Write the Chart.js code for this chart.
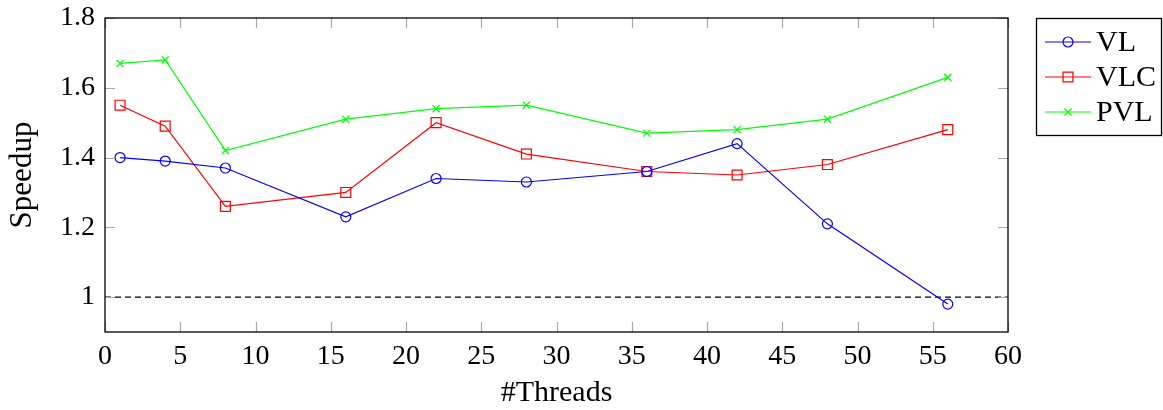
<!DOCTYPE html>
<html>
<head>
<meta charset="utf-8">
<script src="https://cdn.jsdelivr.net/npm/chart.js@4/dist/chart.umd.min.js"></script>
<style>
  html, body { margin: 0; padding: 0; background: #fff; }
  #wrap { width: 1163px; height: 410px; }
</style>
</head>
<body>
<div id="wrap"><canvas id="speedupChart" width="1163" height="410"></canvas></div>
<script>
// Thread counts and measured speedups
const threads = [1, 4, 8, 16, 22, 28, 36, 42, 48, 56];
const vlSpeedup  = [1.40, 1.39, 1.37, 1.23, 1.34, 1.33, 1.36, 1.44, 1.21, 0.98];
const vlcSpeedup = [1.55, 1.49, 1.26, 1.30, 1.50, 1.41, 1.36, 1.35, 1.38, 1.48];
const pvlSpeedup = [1.67, 1.68, 1.42, 1.51, 1.54, 1.55, 1.47, 1.48, 1.51, 1.63];

// Baseline (speedup = 1) across the whole x range
const baselineX = [0, 60];
const baselineY = [1, 1];

const yTicks = [1, 1.2, 1.4, 1.6, 1.8];
const xTicks = [0, 5, 10, 15, 20, 25, 30, 35, 40, 45, 50, 55, 60];

const FONT = "'Liberation Serif', 'Times New Roman', serif";

function toPoints(xs, ys) {
    return xs.map((x, i) => ({ x: x, y: ys[i] }));
}

// pgfplots-like frame with small gray ticks pointing inward
const framePlugin = {
    id: 'frame',
    afterDatasetsDraw(chart) {
        const { ctx, chartArea: a, scales } = chart;
        const len = 10;
        ctx.save();
        ctx.strokeStyle = '#a8a8a8';
        ctx.lineWidth = 1.2;
        ctx.beginPath();
        xTicks.forEach(v => {
            const px = Math.round(scales.x.getPixelForValue(v)) + 0.5;
            ctx.moveTo(px, a.bottom); ctx.lineTo(px, a.bottom - len);
            ctx.moveTo(px, a.top); ctx.lineTo(px, a.top + len);
        });
        yTicks.forEach(v => {
            const py = Math.round(scales.y.getPixelForValue(v)) + 0.5;
            ctx.moveTo(a.left, py); ctx.lineTo(a.left + len, py);
            ctx.moveTo(a.right, py); ctx.lineTo(a.right - len, py);
        });
        ctx.stroke();
        ctx.strokeStyle = '#000';
        ctx.lineWidth = 1.3;
        ctx.strokeRect(a.left, a.top, a.right - a.left, a.bottom - a.top);
        ctx.restore();
    }
};

// Boxed legend outside the plot, each entry showing line + marker
const boxLegendPlugin = {
    id: 'boxLegend',
    afterDraw(chart) {
        const { ctx } = chart;
        const sets = chart.data.datasets.filter(d => d.label);
        const box = { x: 1036.5, y: 18.5, w: 125, h: 117 };
        ctx.save();
        ctx.fillStyle = '#fff';
        ctx.fillRect(box.x, box.y, box.w, box.h);
        ctx.strokeStyle = '#000';
        ctx.lineWidth = 1.3;
        ctx.strokeRect(box.x, box.y, box.w, box.h);
        sets.forEach((d, i) => {
            const cy = 42 + i * 35;
            ctx.strokeStyle = d.borderColor;
            ctx.lineWidth = 1.2;
            ctx.beginPath();
            ctx.moveTo(1045, cy); ctx.lineTo(1091, cy);
            ctx.stroke();
            ctx.fillStyle = 'rgba(0,0,0,0)';
            Chart.helpers.drawPoint(ctx, {
                pointStyle: d.pointStyle,
                radius: d.pointRadius,
                borderWidth: d.pointBorderWidth,
                rotation: 0
            }, 1068, cy);
            ctx.fillStyle = '#000';
            ctx.font = '30px ' + FONT;
            ctx.textBaseline = 'middle';
            ctx.textAlign = 'left';
            ctx.fillText(d.label, 1096, cy + 1);
        });
        ctx.restore();
    }
};

function series(label, ys, color, style, radius) {
    return {
        label: label,
        data: toPoints(threads, ys),
        borderColor: color,
        backgroundColor: 'rgba(0,0,0,0)',
        borderWidth: 1.2,
        pointStyle: style,
        pointRadius: radius,
        pointHoverRadius: radius,
        pointBorderColor: color,
        pointBackgroundColor: 'rgba(0,0,0,0)',
        pointBorderWidth: 1.2,
        tension: 0,
        fill: false
    };
}

new Chart(document.getElementById('speedupChart'), {
    type: 'line',
    data: {
        datasets: [
            series('VL', vlSpeedup, '#0000ff', 'circle', 5),
            series('VLC', vlcSpeedup, '#ff0000', 'rect', 7),
            series('PVL', pvlSpeedup, '#00ff00', 'crossRot', 5),
            {
                label: '',
                data: toPoints(baselineX, baselineY),
                borderColor: '#000',
                borderWidth: 1.3,
                borderDash: [6, 4],
                pointRadius: 0,
                fill: false
            }
        ]
    },
    options: {
        responsive: false,
        animation: false,
        clip: false,
        layout: { padding: { top: 18, right: 155, left: 0, bottom: 0 } },
        plugins: {
            legend: { display: false },
            tooltip: { enabled: false }
        },
        scales: {
            x: {
                type: 'linear',
                min: 0,
                max: 60,
                afterBuildTicks: s => { s.ticks = xTicks.map(v => ({ value: v })); },
                afterFit: s => { s.height = 78; s.paddingLeft = 0; s.paddingRight = 0; },
                grid: { display: false, drawTicks: false },
                border: { display: false },
                ticks: { color: '#000', padding: 8, font: { family: FONT, size: 28 } },
                title: { display: true, text: '#Threads', color: '#000', padding: { top: 0, bottom: 2 }, font: { family: FONT, size: 30, lineHeight: 1 } }
            },
            y: {
                type: 'linear',
                min: 0.9,
                max: 1.8,
                afterBuildTicks: s => { s.ticks = yTicks.map(v => ({ value: v })); },
                afterFit: s => { s.width = 105; s.paddingTop = 0; s.paddingBottom = 0; },
                grid: { display: false, drawTicks: false },
                border: { display: false },
                ticks: {
                    color: '#000',
                    padding: 10,
                    font: { family: FONT, size: 28 },
                    callback: v => String(Number(v.toFixed(1)))
                },
                title: { display: true, text: 'Speedup', color: '#000', padding: { top: 7, bottom: 4 }, font: { family: FONT, size: 31, lineHeight: 1 } }
            }
        }
    },
    plugins: [framePlugin, boxLegendPlugin]
});
</script>
</body>
</html>
